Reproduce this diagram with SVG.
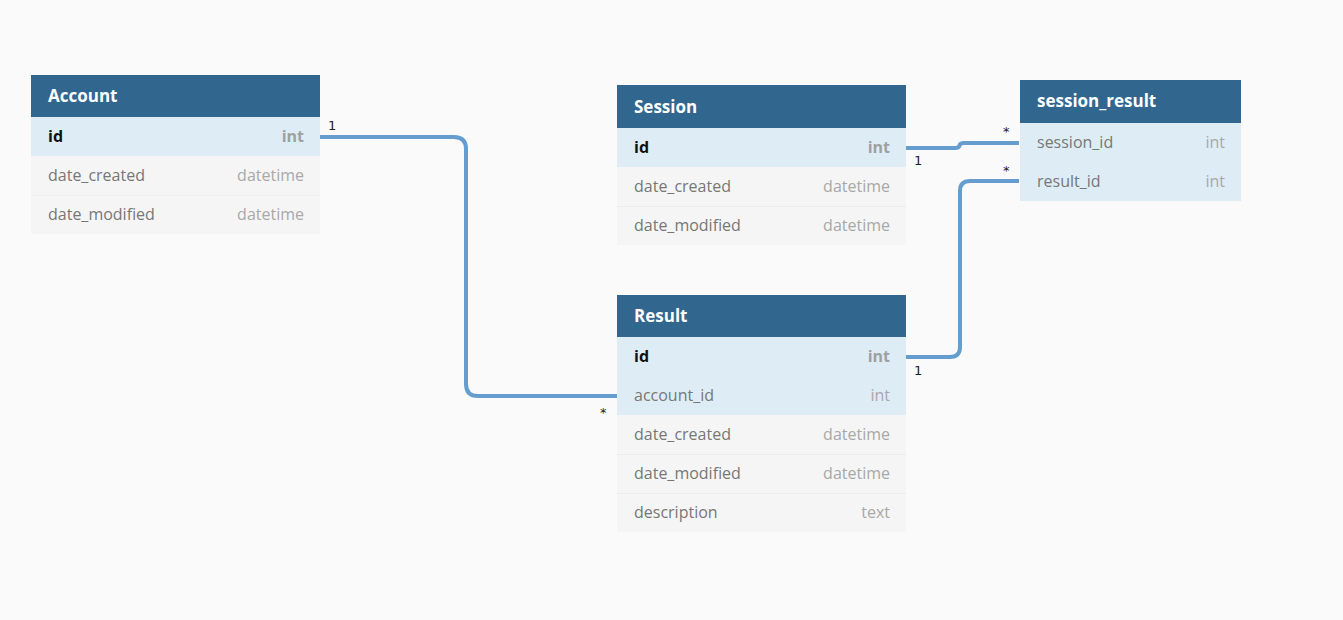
<svg xmlns="http://www.w3.org/2000/svg" width="1343" height="620" viewBox="0 0 1343 620">
<style>
.hd{fill:#31668f}
.ht{font-family:"Open Sans","Noto Sans",sans-serif;font-size:17px;font-weight:bold;fill:#ffffff}
.key{fill:#deedf5}
.row{fill:#f5f5f5}
.sep{stroke:#ececec;stroke-width:1}
.fn{font-family:"Open Sans","Noto Sans",sans-serif;font-size:16px;fill:#777777}
.fk{font-family:"Open Sans","Noto Sans",sans-serif;font-size:16px;font-weight:bold;fill:#111111}
.ty{font-family:"Open Sans","Noto Sans",sans-serif;font-size:16px;fill:#a8a8a8;text-anchor:end}
.tk{font-family:"Open Sans","Noto Sans",sans-serif;font-size:16px;font-weight:bold;fill:#a0a0a0;text-anchor:end}
.cn{fill:none;stroke:#659dcf;stroke-width:4}
.lb{font-family:"DejaVu Sans","Liberation Sans",sans-serif;font-size:13px;fill:#222222}
</style>
<rect width="1343" height="620" fill="#fafafa"/>
<g id="connectors">
<path class="cn" d="M320 137 H454 Q466 137 466 149 V384 Q466 396 478 396 H617"/>
<path class="cn" d="M906 148 H955 Q959 148 959.5 145.5 Q960 143 964 143 H1019"/>
<path class="cn" d="M906 357 H950 Q960 357 960 347 V191 Q960 181 970 181 H1019"/>
<text class="lb" x="328" y="130">1</text>
<text class="lb" x="600" y="417">*</text>
<text class="lb" x="914" y="165">1</text>
<text class="lb" x="1003" y="136">*</text>
<text class="lb" x="914" y="375">1</text>
<text class="lb" x="1003" y="175">*</text>
</g>
<g id="account">
<rect class="hd" x="31" y="75" width="289" height="42"/>
<text class="ht" x="48" y="102">Account</text>
<rect class="key" x="31" y="117" width="289" height="39"/>
<rect class="row" x="31" y="156" width="289" height="39"/>
<rect class="row" x="31" y="195" width="289" height="39"/>
<line class="sep" x1="31" y1="195.5" x2="320" y2="195.5"/>
<text class="fk" x="48" y="142">id</text><text class="tk" x="304" y="142">int</text>
<text class="fn" x="48" y="181">date_created</text><text class="ty" x="304" y="181">datetime</text>
<text class="fn" x="48" y="220">date_modified</text><text class="ty" x="304" y="220">datetime</text>
</g>
<g id="session">
<rect class="hd" x="617" y="85" width="289" height="43"/>
<text class="ht" x="634" y="113">Session</text>
<rect class="key" x="617" y="128" width="289" height="39"/>
<rect class="row" x="617" y="167" width="289" height="39"/>
<rect class="row" x="617" y="206" width="289" height="39"/>
<line class="sep" x1="617" y1="206.5" x2="906" y2="206.5"/>
<text class="fk" x="634" y="153">id</text><text class="tk" x="890" y="153">int</text>
<text class="fn" x="634" y="192">date_created</text><text class="ty" x="890" y="192">datetime</text>
<text class="fn" x="634" y="231">date_modified</text><text class="ty" x="890" y="231">datetime</text>
</g>
<g id="session_result">
<rect class="hd" x="1020" y="80" width="221" height="43"/>
<text class="ht" x="1037" y="107">session_result</text>
<rect class="key" x="1020" y="123" width="221" height="39"/>
<rect class="key" x="1020" y="162" width="221" height="39"/>
<text class="fn" x="1037" y="148">session_id</text><text class="ty" x="1225" y="148">int</text>
<text class="fn" x="1037" y="187">result_id</text><text class="ty" x="1225" y="187">int</text>
</g>
<g id="result">
<rect class="hd" x="617" y="295" width="289" height="42"/>
<text class="ht" x="634" y="322">Result</text>
<rect class="key" x="617" y="337" width="289" height="39"/>
<rect class="key" x="617" y="376" width="289" height="39"/>
<rect class="row" x="617" y="415" width="289" height="39"/>
<rect class="row" x="617" y="454" width="289" height="39"/>
<rect class="row" x="617" y="493" width="289" height="39"/>
<line class="sep" x1="617" y1="454.5" x2="906" y2="454.5"/>
<line class="sep" x1="617" y1="493.5" x2="906" y2="493.5"/>
<text class="fk" x="634" y="362">id</text><text class="tk" x="890" y="362">int</text>
<text class="fn" x="634" y="401">account_id</text><text class="ty" x="890" y="401">int</text>
<text class="fn" x="634" y="440">date_created</text><text class="ty" x="890" y="440">datetime</text>
<text class="fn" x="634" y="479">date_modified</text><text class="ty" x="890" y="479">datetime</text>
<text class="fn" x="634" y="518">description</text><text class="ty" x="890" y="518">text</text>
</g>
</svg>
